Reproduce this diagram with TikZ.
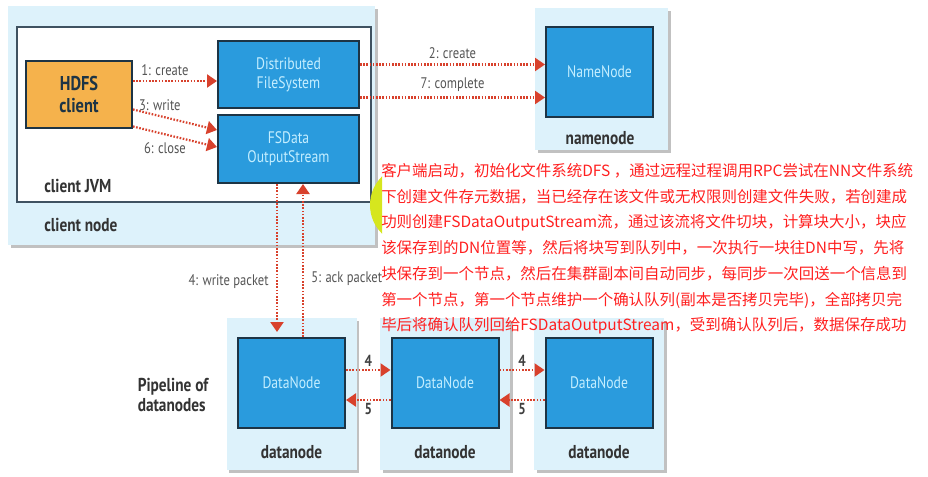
\documentclass[tikz,border=0pt]{standalone}
\usepackage{fontspec}
\setmainfont[FakeStretch=0.82]{PT Sans}
\newfontfamily\cjk{Noto Sans CJK SC}
\usetikzlibrary{arrows.meta,calc,shadows}
\newlength{\unitpx}\setlength{\unitpx}{0.75pt}
\definecolor{hostbg}{HTML}{DDF2FB}
\definecolor{boxblue}{HTML}{2A9BDD}
\definecolor{boxedge}{HTML}{1D3445}
\definecolor{boxtext}{HTML}{C4EEFF}
\definecolor{clientorange}{HTML}{F5B24C}
\definecolor{flowred}{HTML}{D8412C}
\definecolor{labelgray}{HTML}{555555}
\definecolor{notered}{HTML}{FF2020}
\definecolor{cursorblob}{HTML}{D6E61E}

\begin{document}
\begin{tikzpicture}[x=0.75pt, y=-0.75pt,
	hostbox/.style={fill=hostbg, inner sep=0, drop shadow={shadow xshift=2pt, shadow yshift=-2pt, opacity=.35, fill=black!70}},
	jvmbox/.style={fill=white, draw=boxedge!85, line width=1.5pt, inner sep=0},
	bluebox/.style={fill=boxblue, draw=boxedge, line width=1.5pt, inner sep=0, text=boxtext, align=center, font=\fontsize{12.5}{14}\selectfont},
	clientbox/.style={fill=clientorange, draw=boxedge, line width=1.5pt, inner sep=0, text=boxedge, align=center, font=\bfseries\fontsize{15}{16}\selectfont},
	hostlabel/.style={text=black!80, font=\bfseries\fontsize{14}{15}\selectfont, inner sep=0},
	flowlabel/.style={text=labelgray, font=\fontsize{11.5}{13}\selectfont, inner sep=3.5pt},
	hoplabel/.style={text=black!75, font=\bfseries\fontsize{12}{13}\selectfont, inner sep=2pt},
	flow/.style={draw=flowred, line width=1.65pt, dash pattern=on 1.2pt off 1.2pt, -{Triangle[length=7.5pt, width=9.75pt]}},
	notetext/.style={text=notered, align=left, inner sep=0, font=\cjk\fontsize{11.6}{19.3}\selectfont}]
	\useasboundingbox (0,0) rectangle (928,476);
	\node[hostbox, minimum width=367\unitpx, minimum height=239\unitpx] (clientnode) at (191.5,125.5) {};
	\node[jvmbox, minimum width=354\unitpx, minimum height=175\unitpx] (jvm) at (194,114.5) {};
	\node[clientbox, minimum width=106\unitpx, minimum height=67\unitpx] (hdfs) at (79,94.5) {HDFS\\client};
	\node[bluebox, minimum width=141\unitpx, minimum height=67\unitpx] (dfs) at (288.5,74.5) {Distributed\\FileSystem};
	\node[bluebox, minimum width=141\unitpx, minimum height=68\unitpx] (fsd) at (288.5,149) {FSData\\OutputStream};
	\node[hostlabel, anchor=west] (jvmlabel) at (44,186) {client JVM};
	\node[hostlabel, anchor=west] (clientlabel) at (44,225) {client node};
	\node[hostbox, minimum width=133\unitpx, minimum height=142\unitpx] (nnhost) at (601.5,79) {};
	\node[bluebox, minimum width=107\unitpx, minimum height=90\unitpx] (nn) at (599.5,72) {NameNode};
	\node[hostlabel] (nnlabel) at (600,138) {namenode};
	\foreach \i/\x in {1/291.5,2/445,3/599}{
		\node[hostbox, minimum width=130\unitpx, minimum height=152\unitpx] (dnhost\i) at (\x,394) {};
		\node[bluebox, minimum width=107\unitpx, minimum height=90\unitpx] (dn\i) at (\x,383) {DataNode};
		\node[hostlabel] (dnlabel\i) at (\x,452) {datanode};
	}
	\node[hostlabel, align=left] (pipeline) at (173,395) {Pipeline of\\datanodes};
	\begin{scope}
		\clip (366,150) rectangle (382,260);
		\fill[cursorblob] (410,205) circle (40);
	\end{scope}
	\draw[flow] ($(hdfs.east)+(0,-13.5)$) -- node[flowlabel, above, pos=.38] {1: create} ($(dfs.west)+(0,6.5)$);
	\draw[flow] ($(hdfs.east)+(0,15)$) -- node[flowlabel, above, pos=.32] {3: write} ($(fsd.west)+(0,-19)$);
	\draw[flow] ($(hdfs.east)+(0,32)$) -- node[flowlabel, below=2pt, pos=.38] {6: close} ($(fsd.west)+(0,-2)$);
	\draw[flow] ($(dfs.east)+(0,-10)$) -- node[flowlabel, above] {2: create} ($(nn.west)+(0,-7.5)$);
	\draw[flow] ($(dfs.east)+(0,23)$) -- node[flowlabel, above] {7: complete} ($(nn.west)+(0,25.5)$);
	\coordinate (wpout) at ($(fsd.south)+(-11.5,0)$);
	\coordinate (ackin) at ($(fsd.south)+(14.5,0)$);
	\draw[flow, shorten >=3.75pt] (wpout) -- node[flowlabel, left=2pt, pos=.64] {4: write packet} (wpout |- dn1.north);
	\draw[flow] (ackin |- dn1.north) -- node[flowlabel, right=2pt, pos=.38] {5: ack packet} (ackin);
	\foreach \a/\b in {1/2,2/3}{
		\draw[flow] ($(dn\a.east)+(0,-13)$) -- node[hoplabel, above] {4} ($(dn\b.west)+(0,-13)$);
		\draw[flow] ($(dn\b.west)+(0,17)$) -- node[hoplabel, below] {5} ($(dn\a.east)+(0,17)$);
	}
	\node[notetext, anchor=north west] (note) at (381,163) {客户端启动，初始化文件系统DFS ，通过远程过程调用RPC尝试在NN文件系统\\下创建文件存元数据，当已经存在该文件或无权限则创建文件失败，若创建成\\功则创建FSDataOutputStream流，通过该流将文件切块，计算块大小，块应\\该保存到的DN位置等，然后将块写到队列中，一次执行一块往DN中写，先将\\块保存到一个节点，然后在集群副本间自动同步，每同步一次回送一个信息到\\第一个节点，第一个节点维护一个确认队列(副本是否拷贝完毕)，全部拷贝完\\毕后将确认队列回给FSDataOutputStream，受到确认队列后，数据保存成功};
\end{tikzpicture}
\end{document}
